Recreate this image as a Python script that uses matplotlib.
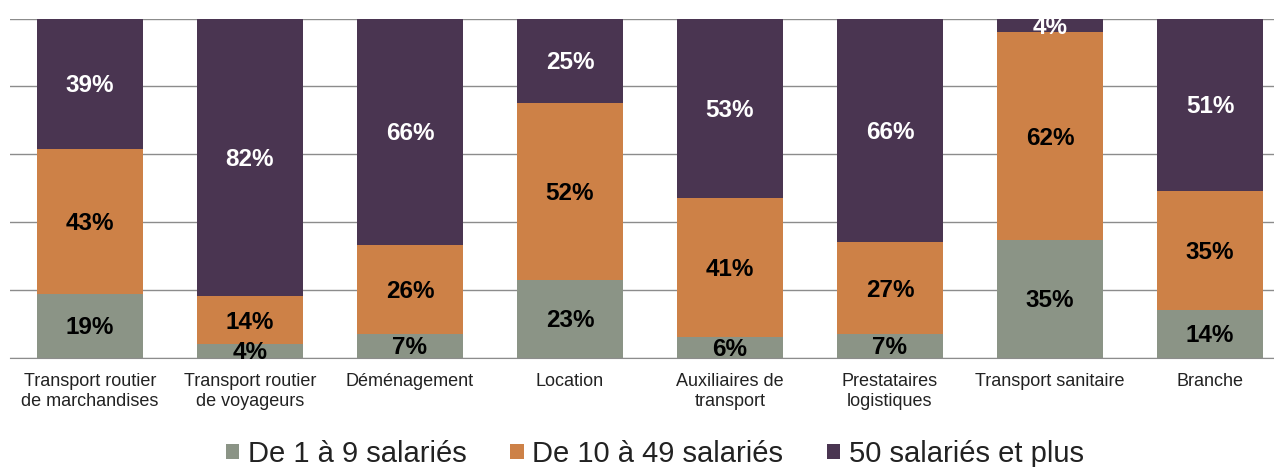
import matplotlib
matplotlib.use("Agg")
import matplotlib.pyplot as plt
import numpy as np

plt.rcParams['font.family'] = ['Liberation Sans', 'DejaVu Sans']

categories = ["Transport routier\nde marchandises", "Transport routier\nde voyageurs",
              "Déménagement", "Location", "Auxiliaires de\ntransport",
              "Prestataires\nlogistiques", "Transport sanitaire", "Branche"]
small = [19, 4, 7, 23, 6, 7, 35, 14]
medium = [43, 14, 26, 52, 41, 27, 62, 35]
large = [39, 82, 66, 25, 53, 66, 4, 51]
series_names = ["De 1 à 9 salariés", "De 10 à 49 salariés", "50 salariés et plus"]
colors = ["#8B9486", "#CD8147", "#4A3551"]
text_colors = ["black", "black", "white"]

W, H = 1274, 467
fig = plt.figure(figsize=(W / 100, H / 100), dpi=100)
left_px, right_px = 10, 1290
top_px, bot_px = 18.5, 357.5
ax = fig.add_axes([left_px / W, 1 - bot_px / H, (right_px - left_px) / W, (bot_px - top_px) / H])

data = np.array([small, medium, large], dtype=float)
totals = data.sum(axis=0)
shares = data / totals * 100
x = np.arange(len(categories))
bottom = np.zeros(len(categories))
handles = []
for i in range(3):
    b = ax.bar(x, shares[i], bottom=bottom, width=0.66, color=colors[i], zorder=2,
               label=series_names[i])
    handles.append(b)
    for xi, (v, s, bt) in enumerate(zip(data[i], shares[i], bottom)):
        ax.text(xi, bt + s / 2 - 0.6, f"{int(v)}%", ha="center", va="center",
                fontsize=17.5, fontweight="bold", color=text_colors[i], zorder=3)
    bottom += shares[i]

ax.set_xlim(-0.5, len(categories) - 0.5)
ax.set_ylim(0, 100)
ax.set_yticks([0, 20, 40, 60, 80, 100])
ax.yaxis.grid(True, color="#8c8c8c", linewidth=1.0, zorder=0)
ax.set_axisbelow(True)
ax.tick_params(axis="y", left=False, labelleft=False)
ax.tick_params(axis="x", length=0, pad=11, labelsize=13, labelcolor="#222222")
ax.set_xticks(x)
ax.set_xticklabels(categories, linespacing=1.25)
for sp in ["left", "right", "top"]:
    ax.spines[sp].set_visible(False)
ax.spines["bottom"].set_color("#8c8c8c")

leg = fig.legend(handles=handles, labels=series_names, loc="center",
                 bbox_to_anchor=(655 / W, 1 - 454 / H), ncol=3, frameon=False,
                 fontsize=21, handlelength=0.45, handleheight=0.45, handletextpad=0.3,
                 columnspacing=1.5, labelcolor="#222222")

fig.savefig("out.png", dpi=100)
